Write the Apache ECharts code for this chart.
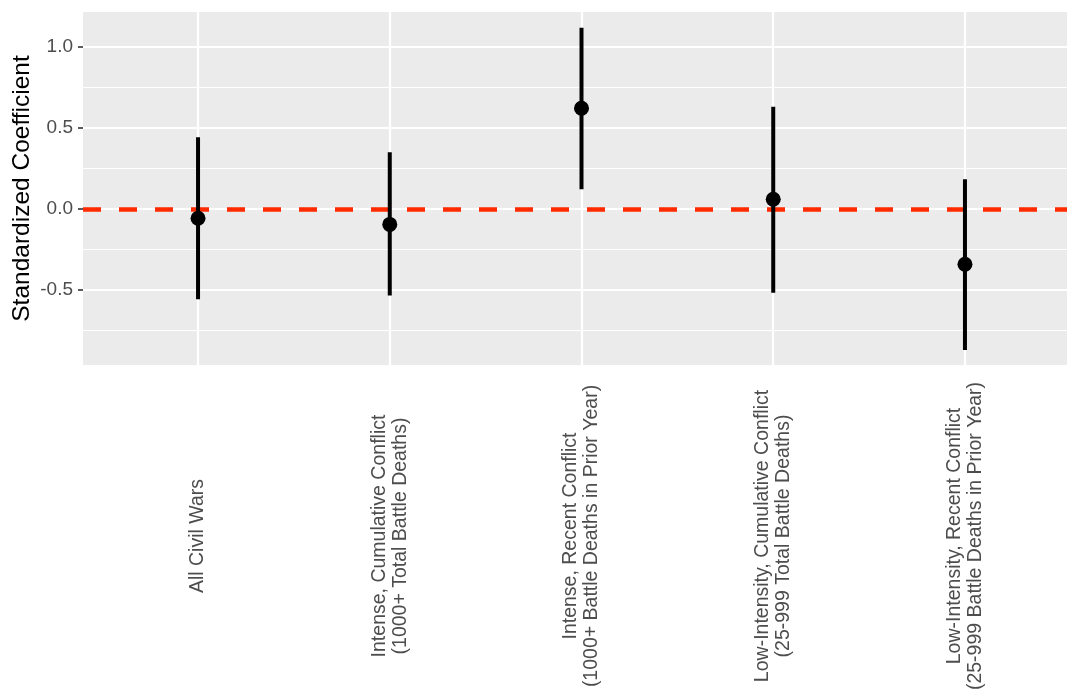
<!DOCTYPE html>
<html>
<head>
<meta charset="utf-8">
<script src="https://cdn.jsdelivr.net/npm/echarts@6/dist/echarts.min.js"></script>
<style>
html,body{margin:0;padding:0;background:#fff;}
#chart{width:1067px;height:689px;}
</style>
</head>
<body>
<div id="chart"></div>
<script>
const categories = [
  "All Civil Wars",
  "Intense, Cumulative Conflict\n(1000+ Total Battle Deaths)",
  "Intense, Recent Conflict\n(1000+ Battle Deaths in Prior Year)",
  "Low-Intensity, Cumulative Conflict\n(25-999 Total Battle Deaths)",
  "Low-Intensity, Recent Conflict\n(25-999 Battle Deaths in Prior Year)"
];
const estimates = [-0.057, -0.095, 0.621, 0.060, -0.341];
const lower = [-0.557, -0.534, 0.121, -0.516, -0.869];
const upper = [0.442, 0.350, 1.118, 0.631, 0.183];
const yTicks = [-0.5, 0, 0.5, 1.0];
const yMinorTicks = [-0.75, -0.25, 0.25, 0.75];
const refLine = 0;

const xPos = categories.map((c, i) => i + 1);
const FONT = "'Liberation Sans', Arial, Helvetica, sans-serif";

const chart = echarts.init(document.getElementById('chart'));

const gridLines = [];
yMinorTicks.forEach(v => gridLines.push({yAxis: v, lineStyle: {color: '#ffffff', width: 1.1, type: 'solid'}}));
yTicks.forEach(v => gridLines.push({yAxis: v, lineStyle: {color: '#ffffff', width: 2.2, type: 'solid'}}));
xPos.forEach(v => gridLines.push({xAxis: v, lineStyle: {color: '#ffffff', width: 2.2, type: 'solid'}}));

chart.setOption({
  animation: false,
  backgroundColor: '#ffffff',
  grid: {
    left: 83, right: -13, top: 12, bottom: 324,
    containLabel: false, outerBoundsMode: 'none',
    show: true, backgroundColor: '#EBEBEB', borderWidth: 0
  },
  xAxis: {
    type: 'value', min: 0.4, max: 5.6,
    axisLine: {show: false},
    splitLine: {show: false},
    axisTick: {show: true, customValues: xPos, length: 5, lineStyle: {color: '#333333', width: 1.6}},
    axisLabel: {
      customValues: xPos,
      rotate: 90, align: 'center', verticalAlign: 'middle',
      margin: 171,
      fontFamily: FONT, fontSize: 19.5, color: '#4D4D4D', lineHeight: 21,
      formatter: v => categories[Math.round(v) - 1] || ''
    }
  },
  yAxis: {
    type: 'value', min: -0.962, max: 1.2145,
    name: 'Standardized Coefficient',
    nameLocation: 'middle', nameGap: 48, nameMoveOverlap: false,
    nameTextStyle: {fontFamily: FONT, fontSize: 24.5, color: '#000000'},
    axisLine: {show: false},
    splitLine: {show: false},
    axisTick: {show: true, customValues: yTicks, length: 5, lineStyle: {color: '#333333', width: 1.6}},
    axisLabel: {
      customValues: yTicks, margin: 10,
      fontFamily: FONT, fontSize: 19, color: '#4D4D4D',
      formatter: v => v.toFixed(1)
    }
  },
  series: [
    {
      type: 'line', data: [], silent: true, z: 1,
      markLine: {
        silent: true, symbol: 'none', z: 1, animation: false,
        label: {show: false},
        data: gridLines
      }
    },
    {
      type: 'line', data: [], silent: true, z: 2,
      markLine: {
        silent: true, symbol: 'none', z: 2, animation: false,
        label: {show: false},
        lineStyle: {color: '#FF2A00', width: 4.5, type: [18, 18], cap: 'butt'},
        data: [{yAxis: refLine}]
      }
    },
    {
      type: 'custom', z: 3, silent: true,
      data: xPos.map((x, i) => [x, lower[i], upper[i]]),
      renderItem: function (params, api) {
        const p1 = api.coord([api.value(0), api.value(1)]);
        const p2 = api.coord([api.value(0), api.value(2)]);
        return {
          type: 'line',
          shape: {x1: p1[0], y1: p1[1], x2: p2[0], y2: p2[1]},
          style: {stroke: '#000000', lineWidth: 4, lineCap: 'butt'}
        };
      }
    },
    {
      type: 'scatter', z: 4, silent: true,
      symbol: 'circle', symbolSize: 15,
      itemStyle: {color: '#000000', opacity: 1},
      data: xPos.map((x, i) => [x, estimates[i]])
    }
  ]
});
</script>
</body>
</html>
